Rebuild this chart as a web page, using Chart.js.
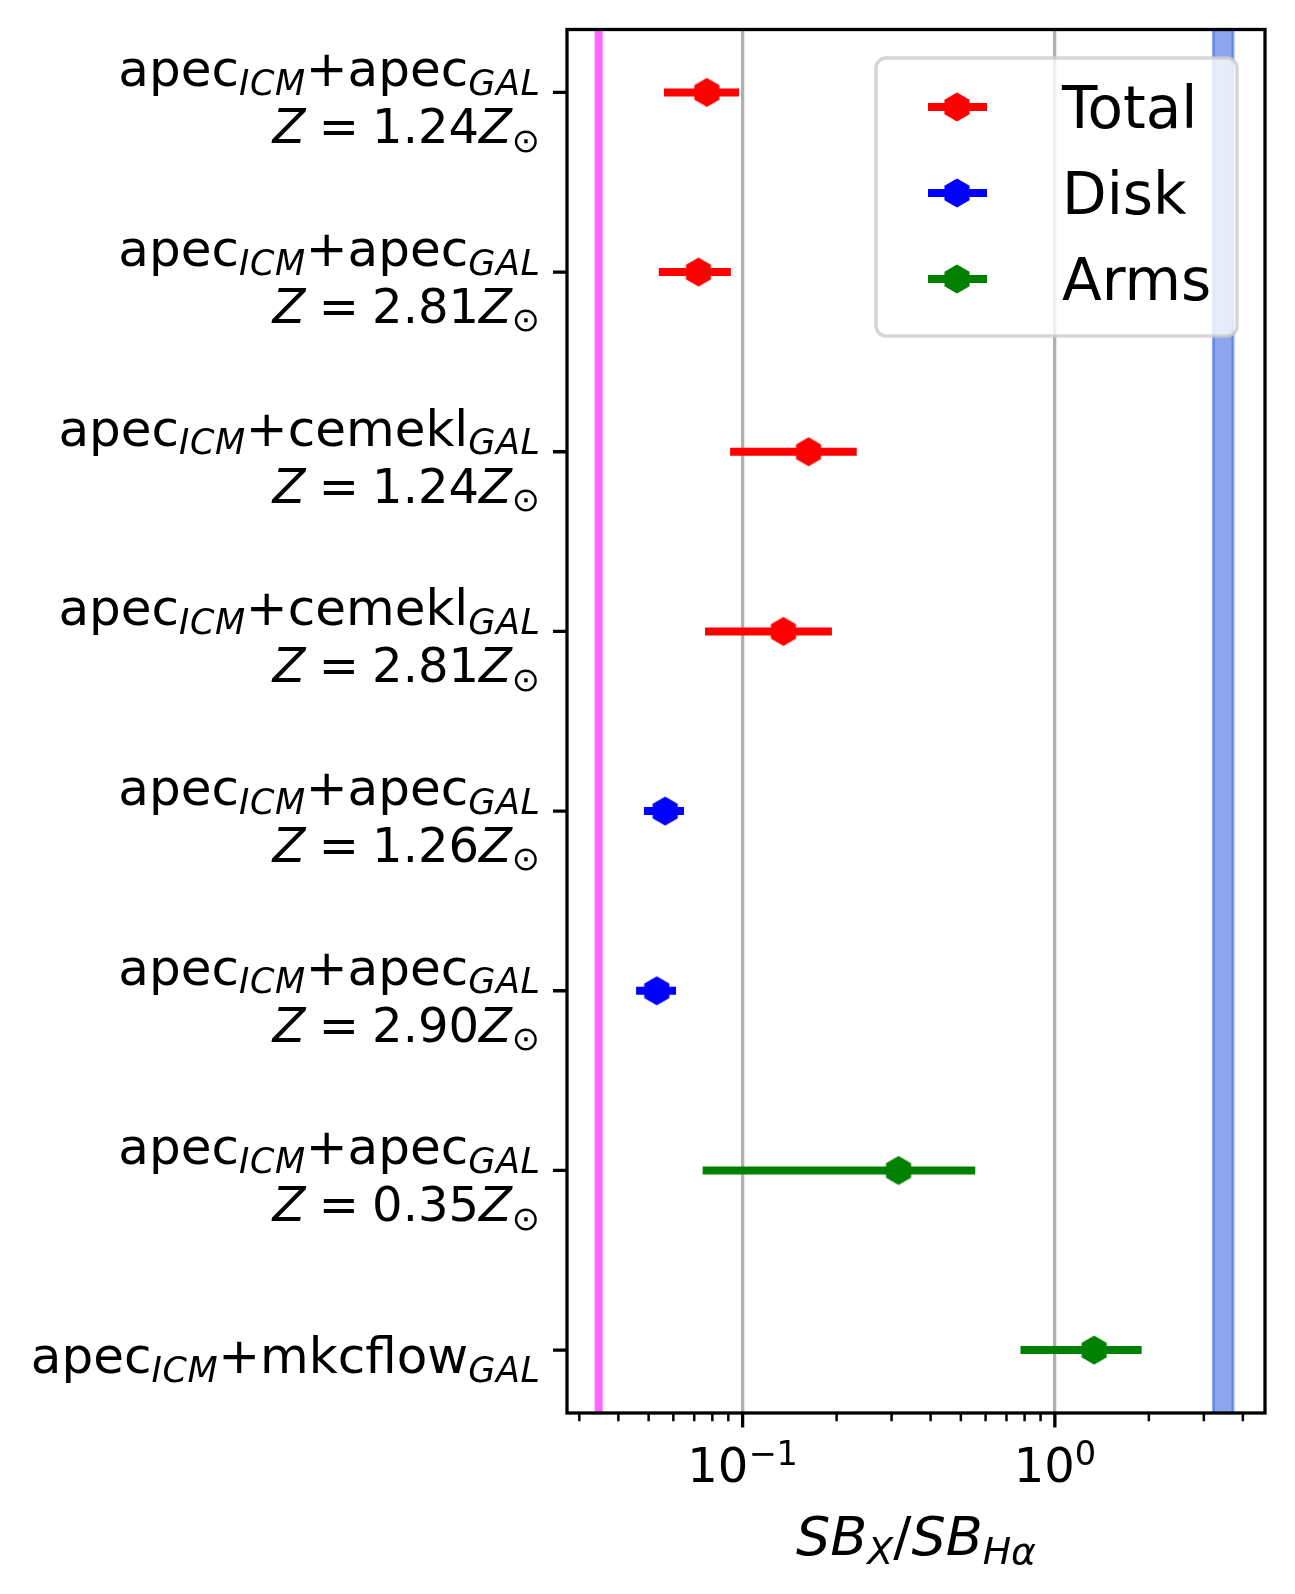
<!DOCTYPE html>
<html>
<head>
<meta charset="utf-8">
<script src="https://cdn.jsdelivr.net/npm/chart.js@4/dist/chart.umd.min.js"></script>
<style>
  html, body { margin: 0; padding: 0; background: #fff; }
  #wrap { width: 1295px; height: 1594px; position: relative; }
</style>
</head>
<body>
<div id="wrap"><canvas id="chart"></canvas></div>
<script>
// ── data ──
const rowModelIcm = ['apec', 'apec', 'apec', 'apec', 'apec', 'apec', 'apec', 'apec'];
const rowModelGal = ['apec', 'apec', 'cemekl', 'cemekl', 'apec', 'apec', 'apec', 'mkcflow'];
const rowMetal = ['1.24', '2.81', '1.24', '2.81', '1.26', '2.90', '0.35', null];

const totalRows = [0, 1, 2, 3];
const totalMid = [0.0768, 0.0722, 0.1626, 0.1351];
const totalLo = [0.0560, 0.0539, 0.0912, 0.0758];
const totalHi = [0.0974, 0.0917, 0.232, 0.1932];

const diskRows = [4, 5];
const diskMid = [0.0565, 0.0531];
const diskLo = [0.0483, 0.0456];
const diskHi = [0.0649, 0.0612];

const armsRows = [6, 7];
const armsMid = [0.3157, 1.336];
const armsLo = [0.0745, 0.776];
const armsHi = [0.556, 1.896];

const pinkLineX = 0.0346;
const bandLo = 3.22, bandHi = 3.72;

const xMin = 0.02739, xMax = 4.71;
const xMajorTicks = [0.1, 1];
const xMajorLabels = [['10', '\u22121'], ['10', '0']];
const xMinorTicks = [0.03, 0.04, 0.05, 0.06, 0.07, 0.08, 0.09, 0.2, 0.3, 0.4, 0.5, 0.6, 0.7, 0.8, 0.9, 2, 3, 4];

const FONT = '"DejaVu Sans", sans-serif';

// hexagon marker ('h' style, pointy top)
function hexImage(color) {
  const r = 14.5;
  const c = document.createElement('canvas');
  c.width = 30; c.height = 32;
  const g = c.getContext('2d');
  g.fillStyle = color;
  g.beginPath();
  for (let k = 0; k < 6; k++) {
    const a = -Math.PI / 2 + k * Math.PI / 3;
    const px = 15 + r * Math.cos(a), py = 16 + r * Math.sin(a);
    if (k) g.lineTo(px, py); else g.moveTo(px, py);
  }
  g.closePath();
  g.fill();
  return c;
}

const groups = [
  { name: 'Total', color: '#ff0000', rows: totalRows, mid: totalMid, lo: totalLo, hi: totalHi },
  { name: 'Disk', color: '#0000ff', rows: diskRows, mid: diskMid, lo: diskLo, hi: diskHi },
  { name: 'Arms', color: '#008000', rows: armsRows, mid: armsMid, lo: armsLo, hi: armsHi }
];
groups.forEach(g => g.img = hexImage(g.color));

const datasets = [];
datasets.push({
  type: 'line', label: 'limit',
  data: [{ x: pinkLineX, y: -0.35 }, { x: pinkLineX, y: 7.35 }],
  borderColor: 'rgba(255,0,255,0.6)', borderWidth: 8, pointRadius: 0, order: 10
});
groups.forEach(g => {
  g.rows.forEach((r, i) => {
    datasets.push({
      type: 'line', label: g.name + ' err',
      data: [{ x: g.lo[i], y: r }, { x: g.hi[i], y: r }],
      borderColor: g.color, borderWidth: 8, borderCapStyle: 'butt',
      pointRadius: 0, order: 5
    });
  });
  datasets.push({
    type: 'scatter', label: g.name,
    data: g.rows.map((r, i) => ({ x: g.mid[i], y: r })),
    pointStyle: g.img, pointRadius: 14, order: 1
  });
});

// text runs with mathtext-like sub/superscripts
function setFont(ctx, p, fs) {
  const s = p.sub || p.sup ? fs * 0.7 : fs;
  ctx.font = (p.it ? 'italic ' : '') + s + 'px ' + FONT;
}
function pieceWidth(ctx, p, fs) {
  setFont(ctx, p, fs);
  const ls = p.ls || 0;
  return ctx.measureText(p.t).width + ls * p.t.length + (p.pad || 0) * fs;
}
function runsWidth(ctx, runs, fs) {
  return runs.reduce((w, p) => w + pieceWidth(ctx, p, fs), 0);
}
function drawRuns(ctx, runs, x, base, fs) {
  runs.forEach(p => {
    const w = pieceWidth(ctx, p, fs);
    setFont(ctx, p, fs);
    const dy = p.sub ? fs * 0.17 : p.sup ? -fs * 0.36 : 0;
    let cx = x + (p.pad || 0) * fs / 2;
    if (p.ls) {
      for (const ch of p.t) {
        ctx.fillText(ch, cx, base + dy);
        cx += ctx.measureText(ch).width + p.ls;
      }
    } else {
      ctx.fillText(p.t, cx, base + dy);
    }
    x += w;
  });
}

const bandPlugin = {
  id: 'band',
  beforeDatasetsDraw(chart) {
    const { ctx, chartArea: a, scales: { x } } = chart;
    const x0 = x.getPixelForValue(bandLo), x1 = x.getPixelForValue(bandHi);
    ctx.save();
    ctx.fillStyle = 'rgba(65,105,225,0.6)';
    ctx.fillRect(x0, a.top, x1 - x0, a.bottom - a.top);
    ctx.strokeStyle = 'rgba(65,105,225,0.6)';
    ctx.lineWidth = 3;
    ctx.beginPath();
    ctx.moveTo(x0, a.top); ctx.lineTo(x0, a.bottom);
    ctx.moveTo(x1, a.top); ctx.lineTo(x1, a.bottom);
    ctx.stroke();
    ctx.restore();
  }
};

const framePlugin = {
  id: 'frame',
  afterDraw(chart) {
    const { ctx, chartArea: a, scales: { x, y } } = chart;
    ctx.save();
    // spines
    ctx.strokeStyle = '#000';
    ctx.lineWidth = 3.3;
    ctx.strokeRect(a.left, a.top, a.right - a.left, a.bottom - a.top);
    // x ticks
    ctx.beginPath();
    xMajorTicks.forEach(v => {
      const px = x.getPixelForValue(v);
      ctx.moveTo(px, a.bottom); ctx.lineTo(px, a.bottom + 14.6);
    });
    ctx.stroke();
    ctx.lineWidth = 2.5;
    ctx.beginPath();
    xMinorTicks.forEach(v => {
      const px = x.getPixelForValue(v);
      ctx.moveTo(px, a.bottom); ctx.lineTo(px, a.bottom + 8.3);
    });
    ctx.stroke();
    // y ticks
    ctx.lineWidth = 3.3;
    ctx.beginPath();
    rowModelGal.forEach((_, i) => {
      const py = y.getPixelForValue(i);
      ctx.moveTo(a.left, py); ctx.lineTo(a.left - 14, py);
    });
    ctx.stroke();

    ctx.fillStyle = '#000';
    ctx.textBaseline = 'alphabetic';
    ctx.textAlign = 'left';
    // x tick labels
    xMajorTicks.forEach((v, i) => {
      const runs = [{ t: xMajorLabels[i][0] }, { t: xMajorLabels[i][1], sup: true }];
      const w = runsWidth(ctx, runs, 48);
      drawRuns(ctx, runs, x.getPixelForValue(v) - w / 2, 1482, 48);
    });
    // x axis title
    const title = [{ t: 'SB', it: true }, { t: 'X', it: true, sub: true }, { t: '/' },
                   { t: 'SB', it: true }, { t: 'H\u03b1', it: true, sub: true }];
    const tw = runsWidth(ctx, title, 54);
    drawRuns(ctx, title, (a.left + a.right) / 2 - tw / 2, 1555, 54);

    // y tick labels
    const right = a.left - 27;
    rowModelGal.forEach((gal, i) => {
      const py = y.getPixelForValue(i);
      const l1 = [{ t: rowModelIcm[i] }, { t: 'ICM', it: true, sub: true, ls: 0.6 }, { t: '+' },
                  { t: gal }, { t: 'GAL', it: true, sub: true, ls: 0.6 }];
      const w1 = runsWidth(ctx, l1, 50) - 0.6;
      if (rowMetal[i] === null) {
        drawRuns(ctx, l1, right - w1, py + 23, 50);
      } else {
        drawRuns(ctx, l1, right - w1, py - 6, 50);
        const l2 = [{ t: 'Z', it: true }, { t: '=', pad: 0.55 }, { t: rowMetal[i] },
                    { t: 'Z', it: true }, { t: '\u2299', sub: true }];
        drawRuns(ctx, l2, right - runsWidth(ctx, l2, 48), py + 51, 48);
      }
    });

    // legend
    const L = { x0: 876, y0: 58, x1: 1237, y1: 336, r: 10 };
    ctx.beginPath();
    ctx.roundRect(L.x0, L.y0, L.x1 - L.x0, L.y1 - L.y0, L.r);
    ctx.fillStyle = 'rgba(255,255,255,0.8)';
    ctx.fill();
    ctx.strokeStyle = 'rgba(204,204,204,0.8)';
    ctx.lineWidth = 3.5;
    ctx.stroke();
    const rowsY = [107, 193, 279];
    groups.forEach((g, i) => {
      const ry = rowsY[i];
      ctx.strokeStyle = g.color;
      ctx.lineWidth = 8;
      ctx.beginPath();
      ctx.moveTo(928, ry); ctx.lineTo(987, ry);
      ctx.stroke();
      ctx.drawImage(g.img, 957 - g.img.width / 2, ry - g.img.height / 2);
      ctx.fillStyle = '#000';
      ctx.font = '58px ' + FONT;
      ctx.fillText(g.name, 1062, ry + 21);
    });
    ctx.restore();
  }
};

new Chart(document.getElementById('chart'), {
  type: 'scatter',
  data: { datasets },
  options: {
    responsive: true,
    maintainAspectRatio: false,
    animation: false,
    events: [],
    layout: { padding: { top: 29.5, right: 30, left: 0, bottom: 0 } },
    plugins: { legend: { display: false }, tooltip: { enabled: false } },
    scales: {
      x: {
        type: 'logarithmic', min: xMin, max: xMax,
        afterBuildTicks: s => { s.ticks = xMajorTicks.map(v => ({ value: v, major: true })); },
        afterFit: s => { s.height = 181; },
        ticks: { display: false },
        border: { display: false },
        grid: { color: '#b0b0b0', lineWidth: 3.3, drawTicks: false }
      },
      y: {
        type: 'linear', min: -0.35, max: 7.35, reverse: true,
        afterBuildTicks: s => { s.ticks = rowModelGal.map((_, i) => ({ value: i })); },
        afterFit: s => { s.width = 567; },
        ticks: { display: false },
        border: { display: false },
        grid: { display: false }
      }
    }
  },
  plugins: [bandPlugin, framePlugin]
});
</script>
</body>
</html>
